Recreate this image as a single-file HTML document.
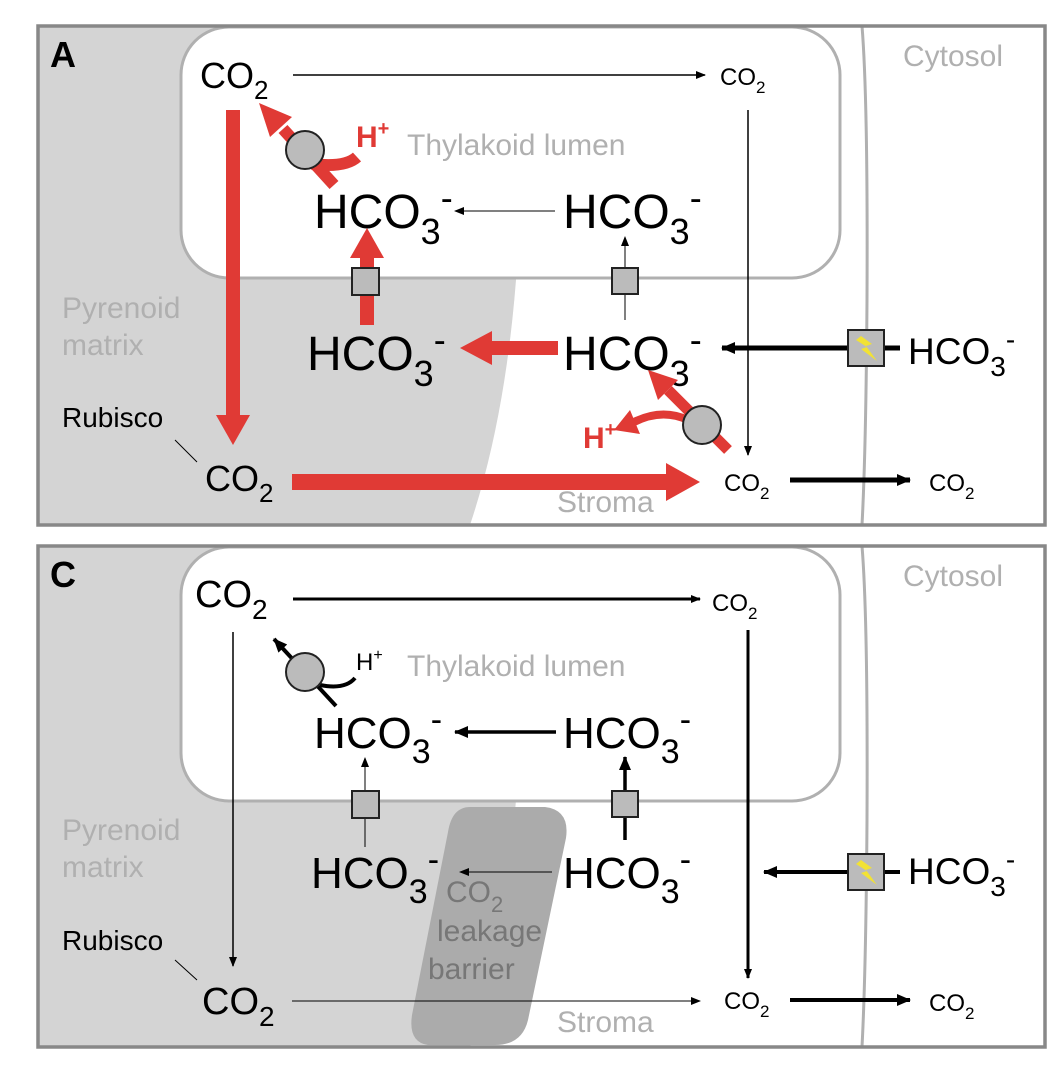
<!DOCTYPE html>
<html><head><meta charset="utf-8"><style>
html,body{margin:0;padding:0;background:#fff}
svg{display:block}
text{font-family:"Liberation Sans",sans-serif}
</style></head><body>
<svg width="1054" height="1068" viewBox="0 0 1054 1068" xmlns="http://www.w3.org/2000/svg">
<defs>
<marker id="ak" markerWidth="10" markerHeight="8" refX="9" refY="4" orient="auto" markerUnits="userSpaceOnUse"><path d="M0,0 L10,4 L0,8 Z" fill="#000"/></marker>
<marker id="akb" markerWidth="14" markerHeight="12" refX="13" refY="6" orient="auto" markerUnits="userSpaceOnUse"><path d="M0,0 L14,6 L0,12 Z" fill="#000"/></marker>
</defs>

<!-- ================= PANEL A ================= -->
<g>
<rect x="38" y="26" width="1007" height="499" fill="#fff"/>
<path d="M38,26 L522,26 L516,280 Q505,420 470,525 L38,525 Z" fill="#d4d4d4"/>
<path d="M862,26 Q868,100 867,300 Q866,450 862,525" fill="none" stroke="#b0b0b0" stroke-width="3"/>
<rect x="181" y="27" width="659" height="251" rx="48" fill="#fff" stroke="#b0b0b0" stroke-width="3"/>
<rect x="38" y="26" width="1007" height="499" fill="none" stroke="#888" stroke-width="3.5"/>

<text x="50" y="67" font-size="36" font-weight="bold">A</text>
<text x="903" y="66" font-size="30" fill="#b0b0b0">Cytosol</text>
<text x="407" y="155" font-size="30" fill="#b0b0b0">Thylakoid lumen</text>
<text x="62" y="318" font-size="30" fill="#b0b0b0">Pyrenoid</text>
<text x="62" y="355" font-size="30" fill="#b0b0b0">matrix</text>
<text x="557" y="512" font-size="30" fill="#b0b0b0">Stroma</text>

<text x="200" y="88" font-size="36">CO<tspan font-size="26" dy="11">2</tspan></text>
<text x="720" y="85" font-size="24">CO<tspan font-size="17" dy="8">2</tspan></text>
<line x1="293" y1="75" x2="705" y2="75" stroke="#000" stroke-width="1.5" marker-end="url(#ak)"/>

<text x="314" y="228" font-size="48">HCO<tspan font-size="36" dy="16">3</tspan><tspan font-size="36" dy="-34">-</tspan></text>
<text x="563" y="228" font-size="48">HCO<tspan font-size="36" dy="16">3</tspan><tspan font-size="36" dy="-34">-</tspan></text>
<line x1="555" y1="211" x2="455" y2="211" stroke="#000" stroke-width="1" marker-end="url(#ak)"/>

<text x="307" y="370" font-size="48">HCO<tspan font-size="36" dy="16">3</tspan><tspan font-size="36" dy="-34">-</tspan></text>
<text x="563" y="370" font-size="48">HCO<tspan font-size="36" dy="16">3</tspan><tspan font-size="36" dy="-34">-</tspan></text>
<text x="908" y="364" font-size="37">HCO<tspan font-size="28" dy="12">3</tspan><tspan font-size="28" dy="-27">-</tspan></text>

<line x1="748" y1="110" x2="748" y2="455" stroke="#000" stroke-width="1.5" marker-end="url(#ak)"/>
<line x1="625" y1="320" x2="625" y2="237" stroke="#000" stroke-width="1" marker-end="url(#ak)"/>
<rect x="612" y="268" width="26" height="26" fill="#bbb" stroke="#222" stroke-width="2"/>
<!-- red up arrow left square -->
<line x1="367" y1="325" x2="367" y2="255" stroke="#e03a35" stroke-width="14"/>
<polygon points="350,258 384,258 367,228" fill="#e03a35"/>
<rect x="352" y="268" width="27" height="27" fill="#bbb" stroke="#222" stroke-width="2"/>
<!-- red left arrow middle -->
<line x1="558" y1="348" x2="488" y2="348" stroke="#e03a35" stroke-width="14"/>
<polygon points="492,331 492,365 460,348" fill="#e03a35"/>
<!-- black transporter arrow -->
<line x1="884" y1="348" x2="900" y2="348" stroke="#000" stroke-width="5"/>
<line x1="848" y1="348" x2="722" y2="348" stroke="#000" stroke-width="5" marker-end="url(#akb)"/>
<rect x="848" y="330" width="36" height="36" fill="#bbb" stroke="#222" stroke-width="2"/>
<path d="M861,336 L872,344 L866,346 L877,361 L861,349 L867,347 L856,340 Z" fill="#f2e234"/>
<!-- red vertical left -->
<line x1="233" y1="110" x2="233" y2="418" stroke="#e03a35" stroke-width="14"/>
<polygon points="216,415 250,415 233,445" fill="#e03a35"/>
<text x="62" y="427" font-size="28">Rubisco</text>
<line x1="175" y1="440" x2="197" y2="462" stroke="#000" stroke-width="1"/>
<text x="205" y="491" font-size="36">CO<tspan font-size="26" dy="11">2</tspan></text>
<line x1="292" y1="482" x2="670" y2="482" stroke="#e03a35" stroke-width="16"/>
<polygon points="666,463 666,501 700,482" fill="#e03a35"/>
<text x="724" y="491" font-size="24">CO<tspan font-size="17" dy="8">2</tspan></text>
<line x1="790" y1="480" x2="910" y2="480" stroke="#000" stroke-width="5" marker-end="url(#akb)"/>
<text x="929" y="491" font-size="24">CO<tspan font-size="17" dy="8">2</tspan></text>

<!-- upper enzyme red -->
<line x1="334" y1="185" x2="283" y2="129" stroke="#e03a35" stroke-width="12"/>
<polygon points="292,117 270,137 259,103" fill="#e03a35"/>
<path d="M357,157 Q345,168 312,164" fill="none" stroke="#e03a35" stroke-width="12"/>
<circle cx="305" cy="150" r="19" fill="#bbb" stroke="#222" stroke-width="2"/>
<text x="356" y="147" font-size="30" font-weight="bold" fill="#e03a35">H<tspan font-size="20" dy="-12">+</tspan></text>

<!-- lower enzyme red -->
<line x1="728" y1="450" x2="668" y2="390" stroke="#e03a35" stroke-width="11"/>
<polygon points="678,380 658,400 648,370" fill="#e03a35"/>
<path d="M688,420 Q662,408 634,422" fill="none" stroke="#e03a35" stroke-width="8"/>
<polygon points="630,410 640,434 614,430" fill="#e03a35"/>
<circle cx="702" cy="425" r="19" fill="#bbb" stroke="#222" stroke-width="2"/>
<text x="583" y="448" font-size="30" font-weight="bold" fill="#e03a35">H<tspan font-size="20" dy="-12">+</tspan></text>
</g>

<!-- ================= PANEL C ================= -->
<g transform="translate(0,520)">
<rect x="38" y="26" width="1007" height="501" fill="#fff"/>
<path d="M38,26 L522,26 L516,280 Q505,420 470,527 L38,527 Z" fill="#d4d4d4"/>
<path d="M862,26 Q868,100 867,300 Q866,450 862,527" fill="none" stroke="#b0b0b0" stroke-width="3"/>
<rect x="181" y="27" width="659" height="254" rx="48" fill="#fff" stroke="#b0b0b0" stroke-width="3"/>
<path d="M470,287 L545,287 Q570,290 566,318 L528,500 Q522,525 495,525 L428,525 Q408,522 412,495 L448,312 Q452,287 470,287 Z" fill="#ababab"/>
<rect x="38" y="26" width="1007" height="501" fill="none" stroke="#888" stroke-width="3.5"/>

<text x="50" y="67" font-size="36" font-weight="bold">C</text>
<text x="903" y="66" font-size="30" fill="#b0b0b0">Cytosol</text>
<text x="407" y="156" font-size="30" fill="#b0b0b0">Thylakoid lumen</text>
<text x="62" y="320" font-size="30" fill="#b0b0b0">Pyrenoid</text>
<text x="62" y="357" font-size="30" fill="#b0b0b0">matrix</text>
<text x="557" y="512" font-size="30" fill="#b0b0b0">Stroma</text>
<text x="446" y="382" font-size="30" fill="#777">CO<tspan font-size="22" dy="10">2</tspan></text>
<text x="437" y="421" font-size="30" fill="#777">leakage</text>
<text x="428" y="459" font-size="30" fill="#777">barrier</text>

<text x="195" y="87" font-size="38">CO<tspan font-size="28" dy="12">2</tspan></text>
<text x="712" y="91" font-size="24">CO<tspan font-size="17" dy="8">2</tspan></text>
<line x1="293" y1="79" x2="700" y2="79" stroke="#000" stroke-width="3" marker-end="url(#ak)"/>

<text x="314" y="228" font-size="44">HCO<tspan font-size="34" dy="15">3</tspan><tspan font-size="34" dy="-32">-</tspan></text>
<text x="563" y="228" font-size="44">HCO<tspan font-size="34" dy="15">3</tspan><tspan font-size="34" dy="-32">-</tspan></text>
<line x1="556" y1="212" x2="455" y2="212" stroke="#000" stroke-width="3.5" marker-end="url(#akb)"/>

<text x="311" y="368" font-size="44">HCO<tspan font-size="34" dy="15">3</tspan><tspan font-size="34" dy="-32">-</tspan></text>
<text x="563" y="368" font-size="44">HCO<tspan font-size="34" dy="15">3</tspan><tspan font-size="34" dy="-32">-</tspan></text>
<text x="908" y="364" font-size="37">HCO<tspan font-size="28" dy="12">3</tspan><tspan font-size="28" dy="-27">-</tspan></text>

<line x1="748" y1="110" x2="748" y2="458" stroke="#000" stroke-width="3" marker-end="url(#ak)"/>
<line x1="625" y1="320" x2="625" y2="237" stroke="#000" stroke-width="3.5" marker-end="url(#akb)"/>
<rect x="612" y="271" width="26" height="26" fill="#bbb" stroke="#222" stroke-width="2"/>
<line x1="365" y1="327" x2="365" y2="238" stroke="#000" stroke-width="1" marker-end="url(#ak)"/>
<rect x="352" y="271" width="27" height="27" fill="#bbb" stroke="#222" stroke-width="2"/>
<line x1="552" y1="352" x2="460" y2="352" stroke="#000" stroke-width="1" marker-end="url(#ak)"/>
<line x1="884" y1="352" x2="900" y2="352" stroke="#000" stroke-width="4"/>
<line x1="848" y1="352" x2="764" y2="352" stroke="#000" stroke-width="4" marker-end="url(#akb)"/>
<rect x="848" y="334" width="36" height="36" fill="#bbb" stroke="#222" stroke-width="2"/>
<path d="M861,340 L872,348 L866,350 L877,365 L861,353 L867,351 L856,344 Z" fill="#f2e234"/>
<line x1="233" y1="112" x2="233" y2="446" stroke="#000" stroke-width="1.5" marker-end="url(#ak)"/>
<text x="62" y="430" font-size="28">Rubisco</text>
<line x1="175" y1="440" x2="197" y2="460" stroke="#000" stroke-width="1"/>
<text x="202" y="494" font-size="38">CO<tspan font-size="28" dy="12">2</tspan></text>
<line x1="292" y1="481" x2="700" y2="481" stroke="#000" stroke-width="1" marker-end="url(#ak)"/>
<text x="724" y="489" font-size="24">CO<tspan font-size="17" dy="8">2</tspan></text>
<line x1="790" y1="480" x2="910" y2="480" stroke="#000" stroke-width="4" marker-end="url(#akb)"/>
<text x="929" y="491" font-size="24">CO<tspan font-size="17" dy="8">2</tspan></text>

<line x1="336" y1="186" x2="274" y2="119" stroke="#000" stroke-width="4" marker-end="url(#akb)"/>
<path d="M355,158 Q345,170 320,165" fill="none" stroke="#000" stroke-width="4"/>
<circle cx="305" cy="152" r="19" fill="#bbb" stroke="#222" stroke-width="2"/>
<text x="356" y="150" font-size="24">H<tspan font-size="16" dy="-10">+</tspan></text>
</g>
</svg>
</body></html>
